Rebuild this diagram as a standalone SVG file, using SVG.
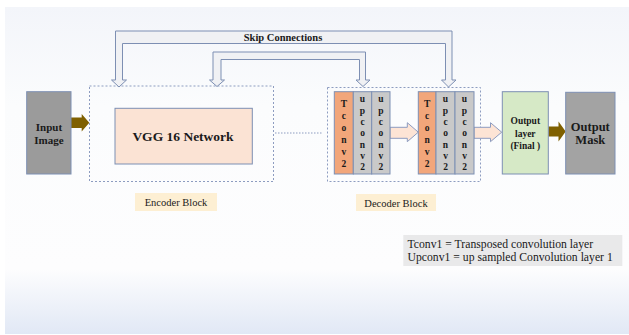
<svg xmlns="http://www.w3.org/2000/svg" width="629" height="335" viewBox="0 0 629 335">
<defs>
<linearGradient id="bg" x1="0" y1="0" x2="0" y2="1">
<stop offset="0" stop-color="#f3f5fa"/>
<stop offset="0.3" stop-color="#fbfcfd"/>
<stop offset="0.8" stop-color="#fdfdfe"/>
<stop offset="1" stop-color="#e1e8f5"/>
</linearGradient>
<style>
.b{font-family:"Liberation Serif","Times New Roman",serif;font-weight:bold;fill:#1a1a1a;text-anchor:middle}
.r{font-family:"Liberation Serif","Times New Roman",serif;fill:#1a1a1a}
.box{stroke:#7d8fb3;stroke-width:1}
.dash{fill:none;stroke:#8d9cc0;stroke-width:1;stroke-dasharray:2 2}
.skip{fill:#f0f1f4;stroke:#7d8fb3;stroke-width:1}
.peach{fill:#fde4d5;stroke:#8d9cc0;stroke-width:1}
.brown{fill:#7f6000}
.col{font-size:9.5px}
</style>
</defs>
<rect x="0" y="0" width="629" height="335" fill="#ffffff"/>
<rect x="5" y="7" width="624" height="327" fill="url(#bg)"/>

<g id="encoder-block">
<rect class="dash" x="89.5" y="86" width="184" height="95.5"/>
<rect x="135" y="193" width="82" height="18" fill="#fdefd3"/>
<text class="r" x="176" y="206" font-size="10.5" text-anchor="middle">Encoder Block</text>
</g>
<g id="decoder-block">
<rect class="dash" x="327.5" y="87.5" width="153" height="94"/>
<rect x="356" y="194" width="80" height="17" fill="#fdefd3"/>
<text class="r" x="396" y="206.5" font-size="10.5" text-anchor="middle">Decoder Block</text>
</g>

<g id="connectors">
<path class="skip" d="M115.5,31 H452 V80 H456 L448.5,87 L441.5,80 H445.5 V43.5 H122.5 V80 H126.5 L119,87 L111.5,80 H115.5 Z"/>
<text class="b" x="283" y="40.5" font-size="10.5">Skip Connections</text>
<path class="skip" d="M213,52 H365.5 V80 H370 L363,86.5 L356,80 H359.5 V59.5 H221 V80 H224.5 L217,86.5 L209.5,80 H213 Z"/>
<line x1="275" y1="133" x2="323" y2="133" stroke="#8d9cc0" stroke-width="1" stroke-dasharray="1.5 1.5"/>
<path class="brown" d="M71,117.5 H81.7 V114 L89.3,122.7 L81.7,131.5 V128 H71 Z"/>
<path class="peach" d="M390,127.3 H407.3 V122.7 L418.3,132.2 L407.3,141.7 V138.3 H390 Z"/>
<path class="peach" d="M474,127.3 H490.5 V122.7 L501.7,132.2 L490.5,141.7 V138.3 H474 Z"/>
<path class="brown" d="M548.3,126.5 H558.5 V121.5 L565.7,131.5 L558.5,141.5 V136.5 H548.3 Z"/>
</g>

<g id="input-image">
<rect class="box" x="26.7" y="91.7" width="44.3" height="82.3" fill="#9b9b9b"/>
<text class="b" x="49" y="130.5" font-size="11">Input</text>
<text class="b" x="49" y="143.5" font-size="11">Image</text>
</g>

<g id="vgg16">
<rect class="box" x="115" y="108.3" width="137.3" height="55.7" fill="#fbe3d4"/>
<text class="b" x="183" y="140.5" font-size="13.5">VGG 16 Network</text>
</g>

<g id="tconv-1">
<rect class="box" x="334.3" y="91.7" width="19" height="82.3" fill="#f2a67a"/>
<text class="b col"><tspan x="343.8" y="106.5">T</tspan><tspan x="343.8" y="118.5">c</tspan><tspan x="343.8" y="130.5">o</tspan><tspan x="343.8" y="142.5">n</tspan><tspan x="343.8" y="154.5">v</tspan><tspan x="343.8" y="166.5">2</tspan></text>
</g>
<g id="upconv-1a">
<rect class="box" x="353.3" y="91.7" width="18.4" height="82.3" fill="#c9c9c9"/>
<text class="b col"><tspan x="362.5" y="102.3">u</tspan><tspan x="362.5" y="113.6">p</tspan><tspan x="362.5" y="124.9">c</tspan><tspan x="362.5" y="136.2">o</tspan><tspan x="362.5" y="147.5">n</tspan><tspan x="362.5" y="158.8">v</tspan><tspan x="362.5" y="170.1">2</tspan></text>
</g>
<g id="upconv-1b">
<rect class="box" x="371.7" y="91.7" width="18.3" height="82.3" fill="#c9c9c9"/>
<text class="b col"><tspan x="380.8" y="102.3">u</tspan><tspan x="380.8" y="113.6">p</tspan><tspan x="380.8" y="124.9">c</tspan><tspan x="380.8" y="136.2">o</tspan><tspan x="380.8" y="147.5">n</tspan><tspan x="380.8" y="158.8">v</tspan><tspan x="380.8" y="170.1">2</tspan></text>
</g>

<g id="tconv-2">
<rect class="box" x="418.3" y="91.7" width="17.7" height="82.3" fill="#f2a67a"/>
<text class="b col"><tspan x="427.2" y="106.5">T</tspan><tspan x="427.2" y="118.5">c</tspan><tspan x="427.2" y="130.5">o</tspan><tspan x="427.2" y="142.5">n</tspan><tspan x="427.2" y="154.5">v</tspan><tspan x="427.2" y="166.5">2</tspan></text>
</g>
<g id="upconv-2a">
<rect class="box" x="436" y="91.7" width="19" height="82.3" fill="#c9c9c9"/>
<text class="b col"><tspan x="445.5" y="102.3">u</tspan><tspan x="445.5" y="113.6">p</tspan><tspan x="445.5" y="124.9">c</tspan><tspan x="445.5" y="136.2">o</tspan><tspan x="445.5" y="147.5">n</tspan><tspan x="445.5" y="158.8">v</tspan><tspan x="445.5" y="170.1">2</tspan></text>
</g>
<g id="upconv-2b">
<rect class="box" x="455" y="91.7" width="19" height="82.3" fill="#c9c9c9"/>
<text class="b col"><tspan x="464.5" y="102.3">u</tspan><tspan x="464.5" y="113.6">p</tspan><tspan x="464.5" y="124.9">c</tspan><tspan x="464.5" y="136.2">o</tspan><tspan x="464.5" y="147.5">n</tspan><tspan x="464.5" y="158.8">v</tspan><tspan x="464.5" y="170.1">2</tspan></text>
</g>

<g id="output-layer">
<rect class="box" x="502.3" y="91.7" width="46" height="82.3" fill="#d6e9c6"/>
<text class="b" font-size="9.5"><tspan x="525.3" y="124">Output</tspan><tspan x="525.3" y="136.5">layer</tspan><tspan x="525.3" y="149">(Final )</tspan></text>
</g>

<g id="output-mask">
<rect class="box" x="565.7" y="92.3" width="49.3" height="81.7" fill="#a3a3a3"/>
<text class="b" font-size="12.5"><tspan x="590.3" y="130.5">Output</tspan><tspan x="590.3" y="143.5">Mask</tspan></text>
</g>

<g id="legend">
<rect x="403.3" y="235" width="219" height="31" fill="#e9e9ea"/>
<text class="r" x="407.5" y="248" font-size="11.7">Tconv1  = Transposed convolution layer</text>
<text class="r" x="407.5" y="261" font-size="11.7">Upconv1 = up sampled Convolution layer 1</text>
</g>
</svg>
